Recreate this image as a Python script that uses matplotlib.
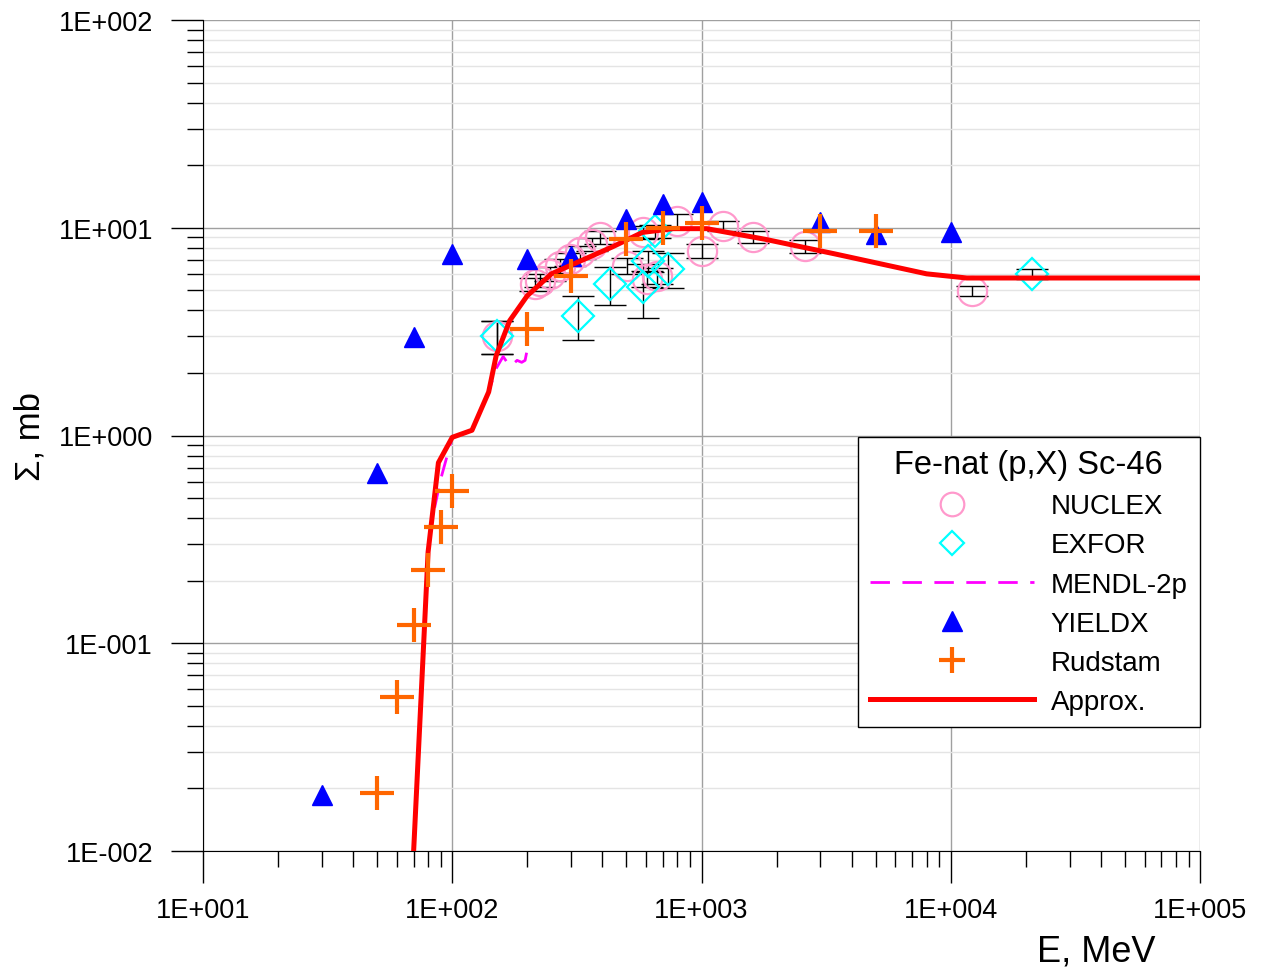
import math
import matplotlib
matplotlib.use('Agg')
import matplotlib.pyplot as plt
from matplotlib.lines import Line2D
from matplotlib.ticker import LogLocator, FuncFormatter, NullFormatter

plt.rcParams['font.family'] = ['Liberation Sans', 'DejaVu Sans']

# NUCLEX: E (MeV), cross-section (mb), error (mb)
nuclex_e = [151, 215, 225, 247, 271, 297, 325, 363, 392, 501, 583, 603, 661, 795, 1002, 1220, 1609, 2601, 12130]
nuclex_s = [3.02, 5.36, 5.56, 5.99, 6.55, 7.07, 7.64, 8.35, 9.03, 6.57, 9.54, 5.67, 5.88, 10.8, 7.75, 10.2, 9.03, 8.14, 4.98]
nuclex_err = [0.55, 0.4, 0.4, 0.45, 0.5, 0.5, 0.55, 0.6, 0.65, 0.6, 0.7, 0.5, 0.5, 0.8, 0.6, 0.6, 0.6, 0.6, 0.28]

# EXFOR
exfor_e = [151, 320, 430, 583, 610, 651, 734, 21130]
exfor_s = [3.02, 3.77, 5.36, 5.19, 6.92, 9.65, 6.33, 5.99]
exfor_err = [0.55, 0.9, 1.1, 1.5, 0.8, 0.7, 1.2, 0.35]

# MENDL-2p evaluation
mendl_e = [85, 90, 100, 120, 140, 150, 160, 166, 172, 182, 190, 196, 200]
mendl_s = [0.45, 0.62, 0.98, 1.06, 1.62, 2.1, 2.4, 2.25, 2.16, 2.3, 2.25, 2.3, 2.6]

# YIELDX
yieldx_e = [30, 50, 70, 100, 200, 300, 500, 700, 1000, 3000, 5000, 10000]
yieldx_s = [0.0185, 0.66, 2.97, 7.48, 7.07, 7.34, 11.0, 13.0, 13.25, 10.7, 9.33, 9.51]

# Rudstam systematics
rudstam_e = [50, 60, 70, 80, 90, 100, 200, 300, 500, 700, 1000, 3000, 5000]
rudstam_s = [0.019, 0.0553, 0.123, 0.226, 0.364, 0.539, 3.26, 5.84, 8.83, 9.94, 10.5, 9.68, 9.68]

# Approximation curve
approx_e = [70, 80, 88, 100, 120, 140, 150, 170, 200, 250, 325, 440, 580, 770, 1050, 1800, 3400, 8000, 11600, 100000]
approx_s = [0.01, 0.275, 0.74, 0.98, 1.06, 1.62, 2.42, 3.57, 4.71, 6.0, 6.9, 8.1, 9.5, 9.9, 9.9, 8.8, 7.5, 6.0, 5.73, 5.73]

c_nuclex = '#FF99CC'
c_exfor = '#00FFFF'
c_mendl = '#FF00FF'
c_yieldx = '#0000FF'
c_rud = '#FF6600'
c_approx = '#FF0000'

fig = plt.figure(figsize=(12.68, 9.78), dpi=100)
ax = fig.add_axes([203 / 1268, 126 / 978, 997 / 1268, 831 / 978])
ax.set_xscale('log')
ax.set_yscale('log')
ax.set_xlim(10, 1e5)
ax.set_ylim(1e-2, 1e2)

ax.errorbar(nuclex_e, nuclex_s, yerr=nuclex_err, fmt='none', ecolor='black',
            elinewidth=1, capsize=11.5, capthick=1, zorder=2)
ax.errorbar(exfor_e, exfor_s, yerr=exfor_err, fmt='none', ecolor='black',
            elinewidth=1, capsize=11.5, capthick=1, zorder=2)
ax.plot(nuclex_e, nuclex_s, ls='none', marker='o', ms=21, mfc='none',
        mec=c_nuclex, mew=1.6, zorder=3)
ax.plot(exfor_e, exfor_s, ls='none', marker='D', ms=16, mfc='none',
        mec=c_exfor, mew=1.6, zorder=3)
ax.plot(mendl_e, mendl_s, color=c_mendl, lw=2, dashes=(7, 4.5), zorder=4)
ax.plot(yieldx_e, yieldx_s, ls='none', marker='^', ms=15, color=c_yieldx, zorder=5)
ax.plot(approx_e, approx_s, color=c_approx, lw=3.6, zorder=6)
ax.plot(rudstam_e, rudstam_s, ls='none', marker='+', ms=25, mew=3, color=c_rud, zorder=7)

# grid and ticks
ax.xaxis.set_major_locator(LogLocator(base=10, numticks=10))
ax.xaxis.set_minor_locator(LogLocator(base=10, subs=range(2, 10), numticks=50))
ax.yaxis.set_major_locator(LogLocator(base=10, numticks=10))
ax.yaxis.set_minor_locator(LogLocator(base=10, subs=range(2, 10), numticks=50))
fmt = FuncFormatter(lambda v, p: '1E{:+04d}'.format(int(round(math.log10(v)))))
ax.xaxis.set_major_formatter(fmt)
ax.yaxis.set_major_formatter(fmt)
ax.xaxis.set_minor_formatter(NullFormatter())
ax.yaxis.set_minor_formatter(NullFormatter())
ax.grid(which='major', color='#A0A0A0', lw=1)
ax.yaxis.grid(which='minor', color='#E4E4E4', lw=1)
ax.set_axisbelow(True)
ax.tick_params(which='major', length=23, width=1, labelsize=19.5, direction='out')
ax.tick_params(which='minor', length=11.5, width=1, direction='out')
ax.tick_params(axis='y', which='major', pad=13)
ax.tick_params(axis='x', which='major', pad=10)
ax.spines['top'].set_visible(False)
ax.spines['right'].set_visible(False)

ax.set_xlabel('E, MeV', fontsize=26)
ax.xaxis.set_label_coords(0.8957, -0.12)
ax.xaxis.label.set_va('center')
ax.set_ylabel('Σ, mb', fontsize=25)
ax.yaxis.set_label_coords(-0.1735, 0.5)
ax.yaxis.label.set_va('center')

handles = [
    Line2D([], [], ls='none', marker='o', ms=17, mfc='none', mec=c_nuclex, mew=1.6),
    Line2D([], [], ls='none', marker='D', ms=12.5, mfc='none', mec=c_exfor, mew=1.6),
    Line2D([], [], color=c_mendl, lw=2, dashes=(7, 4.5)),
    Line2D([], [], ls='none', marker='^', ms=15, color=c_yieldx),
    Line2D([], [], ls='none', marker='+', ms=19, mew=3, color=c_rud),
    Line2D([], [], color=c_approx, lw=3.6),
]
labels = ['NUCLEX', 'EXFOR', 'MENDL-2p', 'YIELDX', 'Rudstam', 'Approx.']
leg = ax.legend(handles, labels, title='Fe-nat (p,X) Sc-46', loc='lower right',
                bbox_to_anchor=(1.0, 0.149), borderaxespad=0, fontsize=20,
                title_fontsize=23.5, handlelength=5.9, handletextpad=0.6,
                labelspacing=0.47, borderpad=0.45, fancybox=False, framealpha=1,
                edgecolor='black')
leg.get_frame().set_linewidth(1)
leg.set_zorder(10)

fig.savefig('out.png', dpi=100)
